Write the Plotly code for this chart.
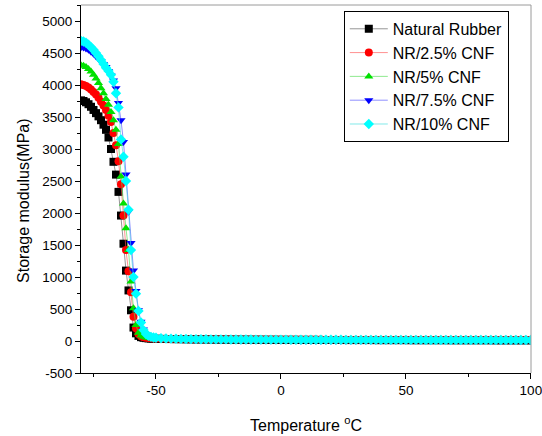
import plotly.graph_objects as go

# temperature (°C): 1 °C steps through the glass transition, 2 °C on the rubbery plateau
temp = [
    -80, -79, -78, -77, -76, -75, -74, -73, -72, -71, -70, -69, -68, -67, -66,
    -65, -64, -63, -62, -61, -60, -59, -58, -57, -56, -55, -54, -53, -52, -51, -50,
    -48, -46, -44, -42, -40, -38, -36, -34, -32, -30, -28, -26, -24, -22, -20,
    -18, -16, -14, -12, -10, -8, -6, -4, -2, 0, 2, 4, 6, 8, 10, 12, 14, 16, 18,
    20, 22, 24, 26, 28, 30, 32, 34, 36, 38, 40, 42, 44, 46, 48, 50, 52, 54, 56,
    58, 60, 62, 64, 66, 68, 70, 72, 74, 76, 78, 80, 82, 84, 86, 88, 90, 92, 94,
    96, 98, 100,
]

nr = [
    3760, 3750, 3730, 3700, 3660, 3610, 3560, 3510, 3450, 3380, 3300, 3180, 3000, 2800, 2600,
    2330, 1960, 1520, 1100, 790, 480, 210, 120, 80, 60, 50, 45, 40, 38, 36, 35,
    33, 31, 30, 29, 28, 27, 26, 25, 25, 24, 24, 23, 23, 22, 22,
    21, 21, 21, 20, 20, 20, 19, 19, 19, 18, 18, 18, 18, 17, 17, 17, 17, 16, 16,
    16, 16, 16, 15, 15, 15, 15, 15, 15, 14, 14, 14, 14, 14, 14, 14, 13, 13, 13,
    13, 13, 13, 13, 13, 12, 12, 12, 12, 12, 12, 12, 12, 12, 11, 11, 11, 11, 11,
    11, 11, 11,
]

cnf_2_5 = [
    4010, 4000, 3985, 3960, 3930, 3890, 3850, 3800, 3740, 3680, 3610, 3520, 3420, 3250, 3060,
    2810, 2450, 1960, 1420, 1090, 760, 380, 200, 110, 75, 60, 50, 45, 42, 40, 38,
    36, 34, 33, 32, 31, 30, 29, 29, 28, 28, 27, 27, 26, 26, 26,
    25, 25, 25, 24, 24, 24, 24, 23, 23, 23, 23, 23, 22, 22, 22, 22, 22, 22, 21,
    21, 21, 21, 21, 21, 21, 20, 20, 20, 20, 20, 20, 20, 20, 20, 19, 19, 19, 19,
    19, 19, 19, 19, 19, 19, 19, 18, 18, 18, 18, 18, 18, 18, 18, 18, 18, 18, 18,
    18, 18, 18,
]

cnf_5 = [
    4310, 4300, 4280, 4250, 4210, 4160, 4100, 4030, 3950, 3870, 3780, 3690, 3580, 3450, 3300,
    3080, 2570, 2150, 1760, 1420, 930, 510, 250, 130, 85, 65, 55, 48, 44, 41, 39,
    36, 33, 31, 29, 27, 26, 25, 24, 23, 22, 21, 21, 20, 20, 19,
    19, 18, 18, 18, 17, 17, 17, 16, 16, 16, 16, 15, 15, 15, 15, 15, 14, 14, 14,
    14, 14, 14, 13, 13, 13, 13, 13, 13, 13, 12, 12, 12, 12, 12, 12, 12, 12, 12,
    11, 11, 11, 11, 11, 11, 11, 11, 11, 11, 11, 10, 10, 10, 10, 10, 10, 10, 10,
    10, 10, 10,
]

cnf_7_5 = [
    4590, 4585, 4570, 4550, 4520, 4490, 4450, 4410, 4370, 4330, 4280, 4220, 4150, 4070, 3950,
    3720, 3450, 3110, 2600, 2020, 1530, 1100, 780, 480, 300, 180, 110, 75, 60, 50, 45,
    38, 33, 29, 26, 23, 21, 19, 17, 16, 15, 14, 13, 12, 11, 10,
    10, 9, 9, 8, 8, 8, 7, 7, 7, 6, 6, 6, 6, 5, 5, 5, 5, 5, 5,
    4, 4, 4, 4, 4, 4, 4, 3, 3, 3, 3, 3, 3, 3, 3, 3, 3, 2, 2,
    2, 2, 2, 2, 2, 2, 2, 2, 2, 2, 2, 2, 2, 1, 1, 1, 1, 1, 1,
    1, 1, 1,
]

cnf_10 = [
    4690, 4680, 4660, 4630, 4590, 4550, 4500, 4450, 4390, 4330, 4270, 4220, 4160, 4050, 3870,
    3650, 3150, 2880, 2500, 2050, 1420, 1000, 740, 470, 290, 170, 110, 80, 65, 55, 50,
    44, 40, 37, 35, 33, 31, 30, 29, 28, 27, 26, 26, 25, 25, 24,
    24, 23, 23, 23, 22, 22, 22, 21, 21, 21, 21, 20, 20, 20, 20, 20, 19, 19, 19,
    19, 19, 19, 18, 18, 18, 18, 18, 18, 18, 17, 17, 17, 17, 17, 17, 17, 17, 17,
    16, 16, 16, 16, 16, 16, 16, 16, 16, 16, 16, 16, 15, 15, 15, 15, 15, 15, 15,
    15, 15, 15,
]

x_ticks = [-50, 0, 50, 100]
x_tick_labels = ["-50", "0", "50", "100"]
y_ticks = [-500, 0, 500, 1000, 1500, 2000, 2500, 3000, 3500, 4000, 4500, 5000]
y_tick_labels = ["-500", "0", "500", "1000", "1500", "2000", "2500", "3000",
                 "3500", "4000", "4500", "5000"]

series = [
    ("Natural Rubber", nr, "#000000", "rgba(90,90,90,0.8)", "square"),
    ("NR/2.5% CNF", cnf_2_5, "#ff0000", "rgba(255,80,80,0.8)", "circle"),
    ("NR/5% CNF", cnf_5, "#00e000", "rgba(80,220,80,0.8)", "triangle-up"),
    ("NR/7.5% CNF", cnf_7_5, "#0000ff", "rgba(80,80,255,0.8)", "triangle-down"),
    ("NR/10% CNF", cnf_10, "#00ffff", "rgba(60,220,220,0.8)", "diamond"),
]

fig = go.Figure()
for name, values, color, line_color, symbol in series:
    fig.add_trace(
        go.Scatter(
            x=temp,
            y=values,
            mode="lines+markers",
            name=name,
            line=dict(color=line_color, width=0.8),
            marker=dict(color=color, symbol=symbol, size=8, line=dict(width=0)),
        )
    )

font_family = "Liberation Sans, Arial, sans-serif"
axis_font = dict(family=font_family, size=13.5, color="#000000")

fig.update_layout(
    width=542,
    height=436,
    margin=dict(l=81, r=11, t=5, b=63),
    plot_bgcolor="white",
    paper_bgcolor="white",
    font=dict(family=font_family, color="#000000"),
    showlegend=True,
    legend=dict(
        x=0.584,
        y=0.984,
        xanchor="left",
        yanchor="top",
        bgcolor="white",
        bordercolor="#000000",
        borderwidth=1,
        font=dict(size=16, color="#000000"),
        tracegroupgap=0,
        itemwidth=38,
    ),
    xaxis=dict(
        range=[-80, 100.05],
        tickvals=x_ticks,
        ticktext=x_tick_labels,
        ticks="outside",
        ticklen=5,
        tickcolor="#000000",
        showline=True,
        linecolor="#000000",
        linewidth=1,
        showgrid=False,
        zeroline=False,
        automargin=False,
        ticklabeloverflow="allow",
        tickfont=axis_font,
        minor=dict(tickvals=[-75, -25, 25, 75], ticks="outside", ticklen=3,
                   tickcolor="#000000", showgrid=False),
    ),
    yaxis=dict(
        range=[-500, 5250],
        tickvals=y_ticks,
        ticktext=y_tick_labels,
        ticks="outside",
        ticklen=5,
        tickcolor="#000000",
        showline=True,
        linecolor="#000000",
        linewidth=1,
        showgrid=False,
        zeroline=False,
        automargin=False,
        tickfont=axis_font,
        minor=dict(dtick=250, tick0=-500, ticks="outside", ticklen=3,
                   tickcolor="#000000", showgrid=False),
    ),
)

# axis titles placed as annotations
fig.add_annotation(text="Temperature <sup>o</sup>C", xref="paper", yref="paper",
                   x=0.5, y=-0.1386, xanchor="center", yanchor="middle",
                   showarrow=False, font=dict(size=16, color="#000000"))
fig.add_annotation(text="Storage modulus(MPa)", xref="paper", yref="paper",
                   x=-0.129, y=0.47, xanchor="center", yanchor="middle",
                   textangle=-90, showarrow=False, font=dict(size=16, color="#000000"))

# grey frame on top and right
fig.add_shape(type="line", xref="x domain", yref="y domain", x0=0, x1=1, y0=1, y1=1,
              line=dict(color="#9a9a9a", width=1))
fig.add_shape(type="line", xref="x domain", yref="y domain", x0=1, x1=1, y0=0, y1=1,
              line=dict(color="#9a9a9a", width=1))

# drop the default page margin so the figure sits at the window's corner
fig.write_html(
    "out.html",
    config={"displayModeBar": False},
    post_script="document.body.style.margin = '0';",
)
